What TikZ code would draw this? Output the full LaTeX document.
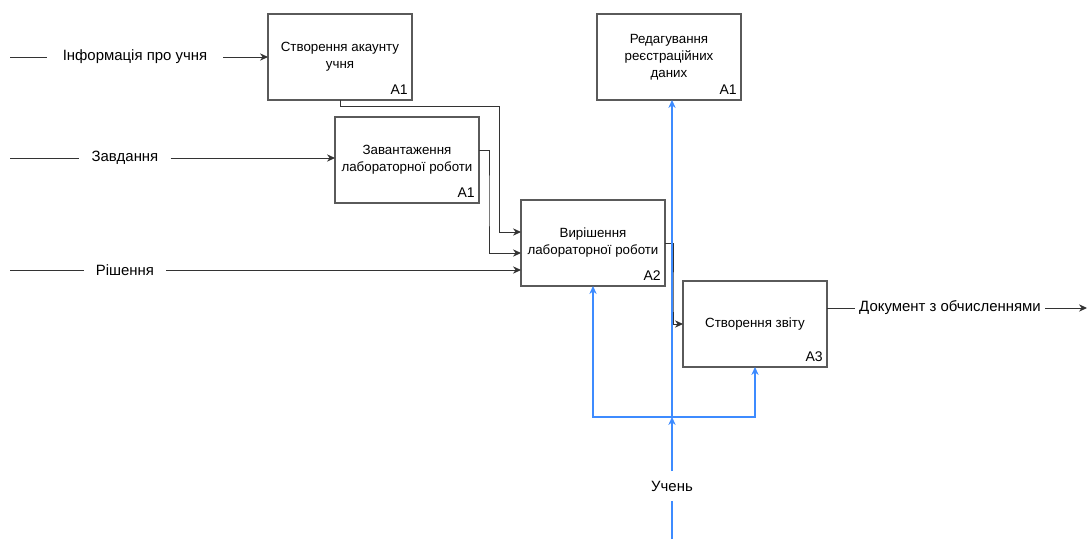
\documentclass[tikz,border=0pt]{standalone}
\usepackage{fontspec}
\setmainfont{Liberation Sans}
\usetikzlibrary{arrows.meta}
\definecolor{bluec}{HTML}{3D8BFF}
\definecolor{linec}{HTML}{333333}
\definecolor{boxc}{HTML}{5A5A5A}
\begin{document}
\begin{tikzpicture}[x=0.75pt,y=-0.75pt,
  fnbox/.style={draw=boxc, line width=0.9pt, fill=white, anchor=north west,
    minimum width=108pt, minimum height=64.5pt, align=center,
    font=\fontsize{10}{12.8}\selectfont, inner sep=2pt, outer sep=0pt},
  boxid/.style={anchor=south east, inner sep=1.5pt, font=\fontsize{10.5}{12}\selectfont},
  lbl/.style={font=\fontsize{11.2}{13}\selectfont, inner ysep=4pt},
  flow/.style={draw=linec, line width=0.75pt},
  arr/.style={flow, -{Stealth[length=6pt,width=5.5pt]}},
  bflow/.style={draw=bluec, line width=0.8pt},
  barr/.style={bflow, -{Stealth[length=6pt,width=5.5pt]}}
]
\useasboundingbox (0,0) rectangle (1088,539);

% boxes
\node[fnbox] (b1) at (268,14) {Створення акаунту\\учня};
\node[boxid] at ([shift={(-2,-3)}]b1.south east) {A1};
\node[fnbox] (b2) at (335,117) {Завантаження\\лабораторної роботи};
\node[boxid] at ([shift={(-2,-3)}]b2.south east) {A1};
\node[fnbox] (b3) at (521,200) {Вирішення\\лабораторної роботи};
\node[boxid] at ([shift={(-2,-3)}]b3.south east) {A2};
\node[fnbox] (b4) at (683,281) {Створення звіту};
\node[boxid] at ([shift={(-2,-3)}]b4.south east) {A3};
\node[fnbox] (b5) at (597,14) {Редагування\\реєстраційних\\даних};
\node[boxid] at ([shift={(-2,-3)}]b5.south east) {A1};

% inputs
\coordinate (infoL) at (10,57);
\node[lbl, inner xsep=12pt] (infoT) at (135,57) {Інформація про учня};
\draw[flow] (infoL) -- (infoT);
\draw[arr] (infoT) -- (infoT -| b1.west);

\coordinate (zavL) at (10,158);
\node[lbl, inner xsep=9pt] (zavT) at (125,158) {Завдання};
\draw[flow] (zavL) -- (zavT);
\draw[arr] (zavT) -- (zavT -| b2.west);

\coordinate (rishL) at (10,270);
\node[lbl, inner xsep=9pt] (rishT) at (125,270) {Рішення};
\draw[flow] (rishL) -- (rishT);
\draw[arr] (rishT) -- (rishT -| b3.west);

% internal flows
\draw[arr] (b1.south) |- (499,106) |- (b3.west |- 0,232);
\draw[arr] (b2.east |- 0,150) -| (489,200) |- (b3.west |- 0,253);
\draw[arr] (b3.east) -| (673,300) |- (b4.west);

% output
\node[lbl, inner xsep=3pt] (docT) at (950,308) {Документ з обчисленнями};
\coordinate (docR) at (1087,308);
\draw[flow] (b4.east |- docT) -- (docT);
\draw[arr] (docT) -- (docR);

% mechanism
\coordinate (ubot) at (672,539);
\node[lbl, inner xsep=2pt, inner ysep=7pt] (uch) at (672,486) {Учень};
\coordinate (J) at (672,417);
\draw[bflow] (ubot) -- (uch);
\draw[barr] (uch) -- (J);
\draw[barr] (J) -- (J |- b5.south);
\draw[barr] (J) -| (b3.south);
\draw[barr] (J) -| (b4.south);
\end{tikzpicture}
\end{document}
